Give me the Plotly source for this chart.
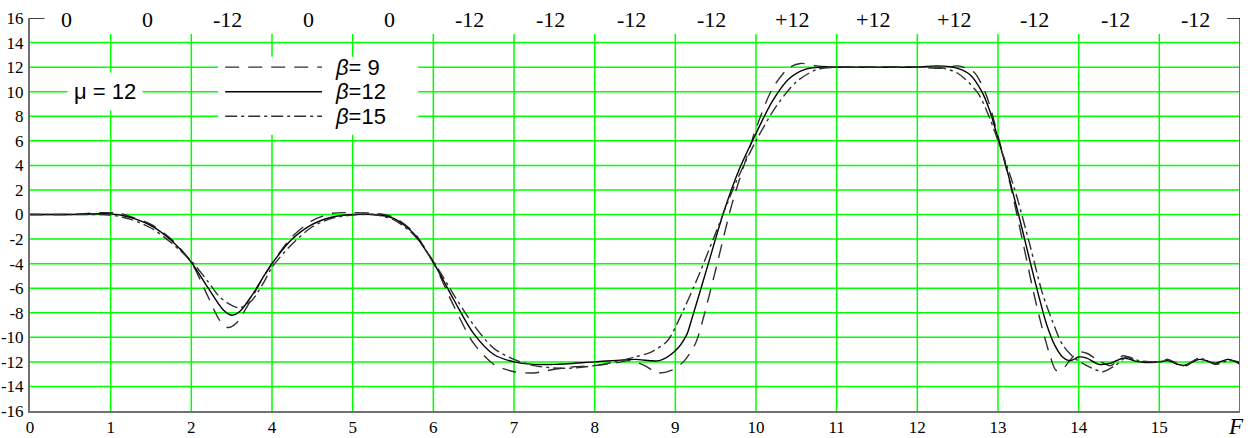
import plotly.graph_objects as go

# ---------------- data ----------------
x_tick_labels = ["0", "1", "2", "4", "5", "6", "7", "8", "9", "10", "11", "12", "13", "14", "15", ""]
band_values = [0, 0, -12, 0, 0, -12, -12, -12, -12, 12, 12, 12, -12, -12, -12]
y_ticks = list(range(-16, 17, 2))
legend_names = ["<i>β</i>= 9", "<i>β</i>=12", "<i>β</i>=15"]

# beta = 9 (dashed)
x_b9 = [0, 0.5, 0.9, 1.1, 1.3, 1.5, 1.75, 2.0, 2.2, 2.35, 2.45, 2.55, 2.7, 2.85, 3.0, 3.25, 3.5, 3.75,
        4.0, 4.25, 4.5, 4.75, 5.0, 5.25, 5.5, 5.75, 6.0, 6.25, 6.5, 6.75, 7.0, 7.25, 7.45, 7.62, 7.78,
        7.95, 8.1, 8.25, 8.34, 8.5, 8.7, 8.9, 9.0, 9.2, 9.4, 9.55, 9.75, 10.0, 10.5, 11.0, 11.3, 11.5,
        11.7, 11.85, 12.0, 12.15, 12.3, 12.45, 12.55, 12.65, 12.72, 12.8, 12.9, 13.0, 13.1, 13.25,
        13.4, 13.55, 13.75, 14.0, 14.1, 14.3, 14.5, 14.7, 14.85, 15.0]
y_b9 = [0, 0, 0.15, 0.1, -0.3, -0.8, -2.0, -3.9, -6.6, -8.6, -9.2, -8.9, -7.4, -5.6, -4.0, -1.8, -0.5, 0.1,
        0.15, 0.1, -0.2, -1.4, -3.9, -7.4, -10.5, -12.2, -12.8, -12.9, -12.6, -12.4, -12.3, -12.1, -11.9, -12.3, -12.9,
        -12.7, -12.0, -10.5, -8.6, -4.5, 0.8, 5.0, 7.0, 10.2, 11.9, 12.3, 12.1, 12.0, 12.0, 12.0, 11.9, 12.1,
        11.6, 9.8, 6.4, 2.5, -2.0, -6.6, -9.3, -11.6, -12.7, -12.6, -11.8, -11.2, -11.3, -11.9,
        -12.3, -11.5, -12.0, -12.0, -11.8, -12.4, -11.7, -12.2, -11.8, -12.2]

# beta = 12 (solid)
x_b12 = [0, 0.5, 1.0, 1.25, 1.5, 1.75, 2.0, 2.2, 2.4, 2.5, 2.6, 2.75, 2.9, 3.0, 3.25, 3.5, 3.75,
         4.0, 4.25, 4.5, 4.75, 5.0, 5.25, 5.5, 5.75, 6.0, 6.25, 6.5, 7.0, 7.5, 7.8, 8.0, 8.14, 8.2,
         8.4, 8.6, 8.8, 9.0, 9.2, 9.4, 9.6, 9.8, 10.0, 10.5, 11.0, 11.25, 11.5, 11.65, 11.8, 11.9,
         12.0, 12.1, 12.2, 12.3, 12.4, 12.5, 12.6, 12.7, 12.8, 12.9, 13.0, 13.1, 13.25, 13.4, 13.55,
         13.75, 14.0, 14.1, 14.3, 14.5, 14.7, 14.85, 15.0]
y_b12 = [0, 0, 0.05, -0.25, -0.9, -2.1, -3.9, -5.9, -7.8, -8.2, -7.9, -6.6, -5.0, -4.0, -2.0, -0.8, -0.2,
         0.0, 0.0, -0.3, -1.5, -3.9, -6.9, -9.7, -11.4, -12.0, -12.2, -12.2, -12.0, -11.8, -11.9, -11.1, -9.8, -8.6,
         -4.2, 0.2, 3.8, 6.6, 9.2, 11.0, 11.8, 12.0, 12.0, 12.0, 12.0, 12.1, 11.9, 11.4, 10.0, 8.4,
         6.2, 3.9, 1.4, -1.2, -3.9, -6.5, -8.9, -10.6, -11.6, -11.9, -11.6, -11.7, -12.2, -12.1, -11.7,
         -12.0, -12.0, -11.9, -12.3, -11.8, -12.1, -11.8, -12.1]

# beta = 15 (dash-dot)
x_b15 = [0, 0.5, 1.0, 1.25, 1.5, 1.75, 2.0, 2.2, 2.35, 2.5, 2.6, 2.75, 2.9, 3.0, 3.25, 3.5, 3.75,
         4.0, 4.25, 4.5, 4.75, 5.0, 5.25, 5.5, 5.75, 6.0, 6.25, 6.5, 6.75, 7.0, 7.25, 7.5, 7.7, 7.9,
         8.05, 8.3, 8.5, 8.75, 9.0, 9.25, 9.5, 9.75, 10.0, 10.5, 11.0, 11.25, 11.5, 11.75, 11.9, 12.0,
         12.2, 12.4, 12.55, 12.67, 12.8, 12.95, 13.1, 13.3, 13.45, 13.6, 13.75, 14.0, 14.1, 14.3, 14.5,
         14.7, 14.85, 15.0]
y_b15 = [0, 0, -0.05, -0.4, -1.1, -2.3, -3.8, -5.4, -6.7, -7.4, -7.6, -7.0, -5.5, -4.3, -2.4, -1.0, -0.3,
         -0.05, 0.0, -0.4, -1.6, -3.8, -6.5, -9.0, -10.9, -11.8, -12.3, -12.5, -12.5, -12.3, -12.0, -11.6, -11.2, -10.3,
         -8.5, -4.8, -1.5, 2.6, 6.0, 8.8, 10.8, 11.8, 12.0, 12.0, 12.0, 12.0, 11.5, 9.9, 7.8, 6.0,
         2.2, -2.6, -6.4, -8.6, -10.6, -11.7, -12.3, -12.8, -12.3, -11.6, -11.9, -12.0, -11.8, -12.3, -11.7,
         -12.2, -11.9, -12.0]

dashes = ["14px,9px", "solid", "12px,4px,3px,4px"]
colors = ["#303030", "#000000", "#303030"]
series = list(zip(legend_names, [x_b9, x_b12, x_b15], [y_b9, y_b12, y_b15], dashes, colors))

# ---------------- figure ----------------
fig = go.Figure()
for name, xs, ys, dash, col in series:
    fig.add_trace(go.Scatter(
        x=xs, y=ys, mode="lines", name=name, showlegend=False,
        line=dict(color=col, width=1.4, dash=dash, shape="spline", smoothing=0.8),
    ))

GREEN = "#00ff00"
shapes = []
for i in range(1, 15):
    shapes.append(dict(type="line", xref="x", yref="y", x0=i, x1=i, y0=-16, y1=14.7,
                       line=dict(color=GREEN, width=1.5), layer="below"))
for v in range(-14, 15, 2):
    shapes.append(dict(type="line", xref="x", yref="y", x0=0, x1=15, y0=v, y1=v,
                       line=dict(color=GREEN, width=1.5), layer="below"))
# legend box (manual legend) over the grid
shapes.append(dict(type="rect", xref="x", yref="y", x0=2.33, x1=4.81, y0=6.5, y1=12.85,
                   fillcolor="white", line=dict(width=0), layer="below"))
legend_rows = [12, 10, 8]
for row, dash, col in zip(legend_rows, dashes, colors):
    shapes.append(dict(type="line", xref="x", yref="y", x0=2.42, x1=3.62, y0=row, y1=row,
                       line=dict(color=col, width=1.4, dash=dash), layer="above"))
# right border and top corner ticks
shapes.append(dict(type="line", xref="x", yref="y", x0=15, x1=15, y0=-16, y1=16,
                   line=dict(color="#707070", width=2), layer="above"))
shapes.append(dict(type="line", xref="x", yref="y", x0=0, x1=0.18, y0=16, y1=16,
                   line=dict(color="#000000", width=1.5), layer="above"))
shapes.append(dict(type="line", xref="x", yref="y", x0=14.84, x1=15, y0=16, y1=16,
                   line=dict(color="#000000", width=1.5), layer="above"))

annotations = []
for i, v in enumerate(band_values):
    txt = "+12" if v > 0 else str(v)
    annotations.append(dict(x=i + 0.5, y=1, xref="x", yref="paper", text=txt, showarrow=False,
                            yanchor="middle", xshift=-4, yshift=-1,
                            font=dict(family="Liberation Serif", size=22, color="black")))
for row, name in zip(legend_rows, legend_names):
    annotations.append(dict(x=3.75, y=row, xref="x", yref="y", text=name, showarrow=False,
                            xanchor="left", yanchor="middle",
                            font=dict(family="Liberation Sans", size=22, color="black")))
annotations.append(dict(x=0.93, y=10, xref="x", yref="y", text="μ = 12", showarrow=False,
                        bgcolor="white", borderpad=6,
                        font=dict(family="Liberation Sans", size=22, color="black")))
annotations.append(dict(x=15, y=0, xref="x", yref="paper", text="<i>F</i>", showarrow=False,
                        xanchor="center", yanchor="top", xshift=-4, yshift=-1,
                        font=dict(family="Liberation Serif", size=23, color="black")))

y_tick_text = [str(v) for v in y_ticks]

fig.update_layout(
    width=1250, height=438,
    margin=dict(l=30, r=10, t=18, b=27),
    plot_bgcolor="white", paper_bgcolor="white",
    shapes=shapes, annotations=annotations,
    showlegend=False,
    xaxis=dict(range=[0, 15], tickvals=list(range(16)), ticktext=x_tick_labels,
               showgrid=False, zeroline=False, showline=True, linecolor="#707070", linewidth=2,
               ticks="", automargin=False,
               tickfont=dict(family="Liberation Serif", size=17, color="black")),
    yaxis=dict(range=[-16, 16], tickvals=y_ticks, ticktext=y_tick_text,
               showgrid=False, zeroline=False, showline=True, linecolor="#707070", linewidth=2,
               ticks="", automargin=False, ticklabelstandoff=1,
               tickfont=dict(family="Liberation Serif", size=17, color="black")),
)

fig.write_html("out.html", config={"displayModeBar": False},
               post_script="document.body.style.margin='0';document.body.style.overflow='hidden';")
